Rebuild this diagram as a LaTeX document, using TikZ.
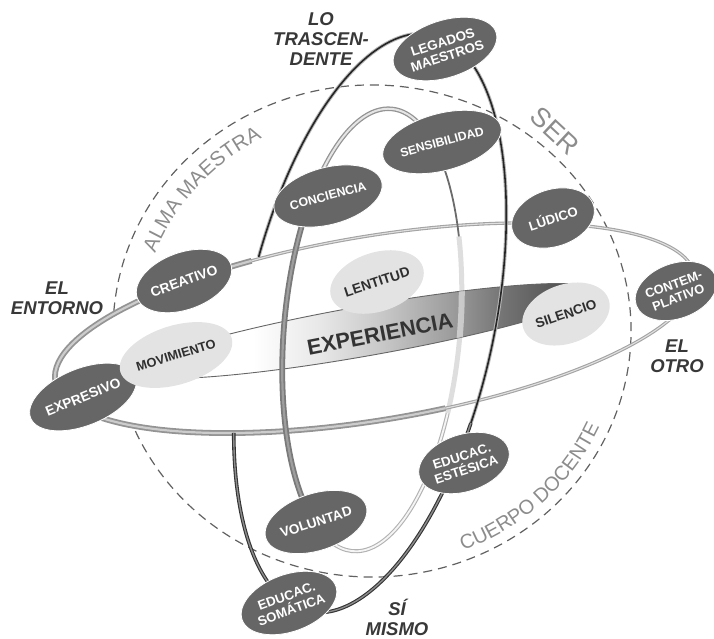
\documentclass[tikz,border=0pt]{standalone}
\usepackage{fontspec}
\setmainfont{Liberation Sans}
\usetikzlibrary{shapes.geometric,decorations.text}
\pgfdeclarehorizontalshading{expshade}{100bp}{color(0bp)=(white); color(25bp)=(white); color(38bp)=(white); color(45bp)=(black!9); color(52bp)=(black!22); color(59bp)=(black!38); color(65bp)=(black!55); color(71bp)=(black!67); color(75bp)=(black!55); color(100bp)=(black!55)}
\tikzset{
  darknode/.style={ellipse, fill=black!60, draw=white, line width=0.8pt, minimum width=85pt, minimum height=57pt, inner sep=0pt, text=white, align=center, font=\fontsize{13.2}{14.5}\selectfont\bfseries},
  lightnode/.style={ellipse, fill=black!11, minimum width=85pt, minimum height=59pt, inner sep=0pt, text=black!82, align=center, font=\fontsize{13.8}{15}\selectfont\bfseries},
  biglabel/.style={text=black!78, align=center, font=\fontsize{18.5}{20}\selectfont\bfseries\itshape},
  dashring/.style={draw=black!62, line width=1.2pt, dash pattern=on 9pt off 6pt},
  loopAfront/.style={draw=black!52, line width=1.8pt, double=black!38, double distance=2.2pt},
  loopAtop/.style={draw=black!42, line width=1.3pt, double=black!10, double distance=2pt},
  loopAthin/.style={draw=black!58, line width=1.8pt},
  loopAback/.style={draw=black!30, line width=1.1pt, double=black!4, double distance=1.8pt},
  loopAfaint/.style={draw=black!13, line width=5pt},
  ringthin/.style={draw=black!36, line width=1.1pt, double=black!12, double distance=1.1pt},
  ringthick/.style={draw=black!42, line width=1.8pt, double=black!20, double distance=2.2pt},
  loopBlow/.style={draw=black!80, line width=1.1pt, double=black!45, double distance=1.4pt},
  loopBhalo/.style={draw=black!28, line width=3.6pt},
  loopBline/.style={draw=black!85, line width=1.6pt}
}
\begin{document}
\begin{tikzpicture}[x=1pt,y=1pt]
\useasboundingbox (0,0) rectangle (714,-638);
\coordinate (cC) at (372,-331);

% dashed sphere outline
\draw[dashring] (cC) ++(204:259 and 246) arc[start angle=204, end angle=536, x radius=259, y radius=246];

% loop A, back part
\begin{scope}[shift={(372,-330)},rotate=-5]
  \draw[loopAback] (243:88 and 222) arc[start angle=243,end angle=340,x radius=88,y radius=222];
  \draw[loopAfaint] (340:88 and 222) arc[start angle=340,end angle=387,x radius=88,y radius=222];
\end{scope}

% outer ring
\begin{scope}[shift={(375,-328)},rotate=9.4]
  \draw[ringthin] (0,0) ellipse[x radius=324, y radius=92];
  \draw[ringthick] (110:324 and 92) arc[start angle=110,end angle=280,x radius=324,y radius=92];
\end{scope}

% inner ellipse
\begin{scope}[shift={(365,-331)},rotate=10]
  \shade[shading=expshade] (0,0) ellipse[x radius=234, y radius=25];
  \draw[black!60, line width=0.9pt] (0,0) ellipse[x radius=234, y radius=25];
\end{scope}
\begin{scope}
  \clip[shift={(365,-331)},rotate=10] (0,0) ellipse[x radius=234, y radius=25];
  \begin{scope}[shift={(372,-330)},rotate=-5]
    \draw[white, opacity=0.5, line width=6pt] (330:88 and 222) arc[start angle=330,end angle=390,x radius=88,y radius=222];
  \end{scope}
\end{scope}

% loop A, front part
\begin{scope}[shift={(372,-330)},rotate=-5]
  \draw[loopAfront] (140:88 and 222) arc[start angle=140,end angle=243,x radius=88,y radius=222];
  \draw[loopAtop] (55:88 and 222) arc[start angle=55,end angle=140,x radius=88,y radius=222];
  \draw[loopAthin] (27:88 and 222) arc[start angle=27,end angle=55,x radius=88,y radius=222];
\end{scope}

% loop B
\begin{scope}[shift={(370,-323)},rotate=-12.2]
  \draw[loopBlow] (207.5:124 and 295) arc[start angle=207.5,end angle=345,x radius=124,y radius=295];
  \draw[loopBhalo] (345:124 and 295) arc[start angle=345,end angle=532,x radius=124,y radius=295];
  \draw[loopBline] (345:124 and 295) arc[start angle=345,end angle=532,x radius=124,y radius=295];
\end{scope}

% arc texts
\path[decorate, decoration={text along path, text align=center, text={|\fontsize{20.5}{20.5}\selectfont\color{black!45}|ALMA MAESTRA}}] (cC) ++(172:232 and 219) arc[start angle=172, end angle=106, x radius=232, y radius=219];
\path[decorate, decoration={text along path, text align=center, text={|\fontsize{20}{20}\selectfont\color{black!45}|CUERPO DOCENTE}}] (cC) ++(-80:249 and 236) arc[start angle=-80, end angle=-12, x radius=249, y radius=236];
\node[rotate=-43, text=black!45, font=\fontsize{27}{27}\selectfont] (ser) at (555,-131) {SER};

% outer labels
\node[biglabel] (entorno) at (57,-298) {EL\\ENTORNO};
\node[biglabel] (otro) at (677,-356) {EL\\OTRO};
\node[biglabel] (trasc) at (321,-39) {LO\\TRASCEN-\\DENTE};
\node[biglabel] (mismo) at (397,-617) {SÍ\\MISMO};

\node[rotate=11, text=black!80, font=\fontsize{21.8}{21.8}\selectfont\bfseries] (exp) at (380,-334) {EXPERIENCIA};

% nodes
\node[darknode, rotate=18, font=\fontsize{13.4}{14.5}\selectfont\bfseries] (legados) at (445,-49) {LEGADOS\\MAESTROS};
\node[darknode, rotate=15, font=\fontsize{12.2}{13}\selectfont\bfseries] (sensib) at (442,-142) {SENSIBILIDAD};
\node[darknode, rotate=15, font=\fontsize{12.4}{13}\selectfont\bfseries] (concien) at (328,-196) {CONCIENCIA};
\node[darknode, rotate=20, font=\fontsize{13.8}{14.5}\selectfont\bfseries] (creativo) at (184,-281) {CREATIVO};
\node[darknode, rotate=18] (ludico) at (553,-218) {LÚDICO};
\node[darknode, rotate=20, minimum width=80pt, minimum height=55pt, font=\fontsize{12.8}{14}\selectfont\bfseries] (contemp) at (676,-291) {CONTEM-\\PLATIVO};
\node[darknode, rotate=22, font=\fontsize{13.8}{14.5}\selectfont\bfseries] (expresivo) at (83,-397) {EXPRESIVO};
\node[darknode, rotate=18] (estesica) at (464,-463) {EDUCAC.\\ESTÉSICA};
\node[darknode, rotate=18, font=\fontsize{13.6}{14.5}\selectfont\bfseries] (voluntad) at (316,-522) {VOLUNTAD};
\node[darknode, rotate=20] (somatica) at (289,-603) {EDUCAC.\\SOMÁTICA};
\node[lightnode, rotate=18] (lentitud) at (377,-282) {LENTITUD};
\node[lightnode, rotate=17, font=\fontsize{12.8}{14}\selectfont\bfseries] (movim) at (176,-355) {MOVIMIENTO};
\node[lightnode, rotate=19, font=\fontsize{13.5}{15}\selectfont\bfseries] (silencio) at (566,-314) {SILENCIO};
\end{tikzpicture}
\end{document}
